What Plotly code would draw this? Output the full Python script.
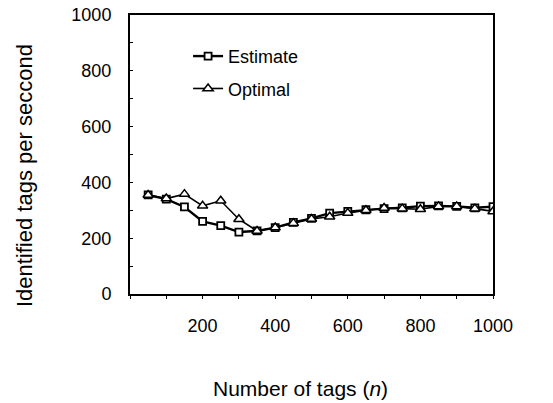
import plotly.graph_objects as go

n_tags = [50, 100, 150, 200, 250, 300, 350, 400, 450, 500, 550, 600, 650, 700, 750, 800, 850, 900, 950, 1000]
estimate = [355, 340, 312, 260, 245, 222, 226, 238, 257, 271, 290, 296, 302, 306, 309, 315, 316, 314, 309, 313]
optimal = [355, 342, 358, 316, 334, 268, 226, 238, 254, 269, 277, 290, 300, 308, 306, 304, 314, 314, 306, 296]

x_ticks = [200, 400, 600, 800, 1000]
y_ticks = [0, 200, 400, 600, 800, 1000]

x_title = "Number of tags (<i>n</i>)"
y_title = "Identified tags per seccond"

font = "Liberation Sans, Arial, sans-serif"

fig = go.Figure()
fig.add_trace(go.Scatter(
    x=n_tags, y=estimate, name="Estimate", mode="lines+markers", legendgroup="a",
    line=dict(color="black", width=2.4),
    marker=dict(symbol="square", size=7, color="white", line=dict(color="black", width=1.8)),
))
fig.add_trace(go.Scatter(
    x=n_tags, y=optimal, name="Optimal", mode="lines+markers", legendgroup="b",
    line=dict(color="black", width=1.6),
    marker=dict(symbol="triangle-up", size=9, color="white", line=dict(color="black", width=1.5)),
))

fig.update_layout(
    width=553, height=403,
    margin=dict(l=130, r=60, t=15, b=109, autoexpand=False),
    paper_bgcolor="white", plot_bgcolor="white",
    font=dict(family=font, size=18, color="black"),
    showlegend=True,
    legend=dict(x=0.16, y=0.918, xanchor="left", yanchor="top",
                bgcolor="rgba(0,0,0,0)", font=dict(size=18),
                tracegroupgap=6, itemwidth=30),
    annotations=[
        dict(text=x_title, xref="paper", yref="paper", x=0.47, y=-0.337,
             xanchor="center", yanchor="middle", showarrow=False, font=dict(size=21)),
        dict(text=y_title, xref="paper", yref="paper", x=-0.289, y=0.423,
             xanchor="center", yanchor="middle", textangle=-90, showarrow=False, font=dict(size=22)),
    ],
)
fig.update_xaxes(
    range=[0, 1000], tickvals=x_ticks, ticktext=[str(v) for v in x_ticks],
    showline=True, linecolor="black", linewidth=2, mirror=True,
    ticks="outside", ticklen=3, tickcolor="black",
    minor=dict(dtick=100, tick0=0, ticks="outside", ticklen=3, tickcolor="black"),
    showgrid=False, zeroline=False, automargin=False,
    tickfont=dict(size=18), ticklabelstandoff=11,
)
fig.update_yaxes(
    range=[0, 1000], tickvals=y_ticks, ticktext=[str(v) for v in y_ticks],
    showline=True, linecolor="black", linewidth=2, mirror=True,
    ticks="inside", ticklen=3, tickcolor="black",
    minor=dict(dtick=100, tick0=0, ticks="inside", ticklen=3, tickcolor="black"),
    showgrid=False, zeroline=False, automargin=False,
    tickfont=dict(size=18), ticklabelstandoff=13,
)

fig.write_html("out.html")
